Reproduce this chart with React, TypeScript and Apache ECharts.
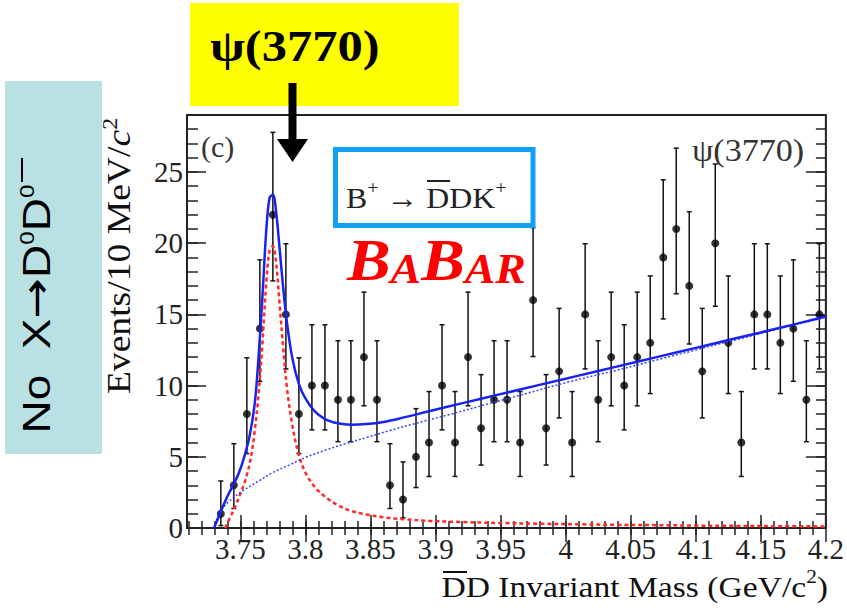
import React, { useEffect, useRef } from "react";
import * as echarts from "echarts";

// ---- data ----
const massBins = [
  3.735, 3.745, 3.755, 3.765, 3.775, 3.785, 3.795, 3.805, 3.815, 3.825,
  3.835, 3.845, 3.855, 3.865, 3.875, 3.885, 3.895, 3.905, 3.915, 3.925,
  3.935, 3.945, 3.955, 3.965, 3.975, 3.985, 3.995, 4.005, 4.015, 4.025,
  4.035, 4.045, 4.055, 4.065, 4.075, 4.085, 4.095, 4.105, 4.115, 4.125,
  4.135, 4.145, 4.155, 4.165, 4.175, 4.185, 4.195,
];
const events = [
  1, 3, 8, 14, 22, 15, 8, 10, 10, 9,
  9, 12, 9, 3, 2, 5, 6, 10, 6, 12,
  7, 9, 9, 6, 16, 7, 11, 6, 15, 9,
  12, 10, 12, 13, 19, 21, 17, 11, 20, 13,
  6, 15, 15, 13, 14, 9, 15,
];
const barLow = [
  0.17, 1.37, 5.23, 10.3, 17.35, 11.17, 5.23, 6.89, 6.89, 6.06,
  6.06, 8.58, 6.06, 1.37, 0.71, 2.84, 3.62, 6.89, 3.62, 8.58,
  4.42, 6.06, 6.06, 3.62, 12.04, 4.42, 7.73, 3.62, 11.17, 6.06,
  8.58, 6.89, 8.58, 9.44, 14.68, 16.45, 12.92, 7.73, 15.57, 9.44,
  3.62, 11.17, 11.17, 9.44, 10.3, 6.06, 11.17,
];
const barHigh = [
  3.3, 5.92, 11.95, 18.83, 27.78, 19.96, 11.95, 14.27, 14.27, 13.15,
  13.15, 16.56, 13.15, 5.92, 4.64, 8.38, 9.58, 14.27, 9.58, 16.56,
  10.77, 13.15, 13.15, 9.58, 21.09, 10.77, 15.42, 9.58, 19.96, 13.15,
  16.56, 14.27, 16.56, 17.7, 24.45, 26.67, 22.21, 15.42, 25.56, 17.7,
  9.58, 19.96, 19.96, 17.7, 18.83, 13.15, 19.96,
];
const totalFit: [number, number][] = [
  [3.7297, 0], [3.733, 0.7], [3.737, 1.6], [3.741, 2.4], [3.745, 3.1],
  [3.749, 3.9], [3.753, 5.0], [3.757, 6.4], [3.761, 8.7], [3.764, 12.0],
  [3.767, 16.3], [3.77, 21.0], [3.7725, 23.2], [3.775, 23.4], [3.7775, 22.2],
  [3.78, 19.8], [3.783, 16.8], [3.786, 14.3], [3.79, 11.9], [3.795, 10.1],
  [3.8, 9.1], [3.807, 8.2], [3.815, 7.65], [3.825, 7.35], [3.835, 7.25],
  [3.847, 7.3], [3.86, 7.45], [3.875, 7.75], [3.895, 8.2], [3.92, 8.75],
  [3.95, 9.4], [3.98, 10.05], [4.01, 10.7], [4.04, 11.35], [4.07, 12.0],
  [4.1, 12.65], [4.13, 13.3], [4.16, 13.95], [4.2, 14.85],
];
const signalFit: [number, number][] = [
  [3.7383, 0], [3.742, 0.7], [3.746, 1.5], [3.75, 2.4], [3.754, 3.4],
  [3.758, 4.9], [3.761, 6.8], [3.764, 9.4], [3.767, 13.0], [3.77, 17.3],
  [3.7725, 19.5], [3.775, 19.8], [3.7775, 18.6], [3.78, 15.9], [3.783, 12.6],
  [3.786, 9.7], [3.79, 7.2], [3.795, 5.1], [3.8, 3.9], [3.807, 2.9],
  [3.815, 2.2], [3.825, 1.6], [3.835, 1.2], [3.847, 0.95], [3.86, 0.75],
  [3.875, 0.62], [3.895, 0.5], [3.92, 0.42], [3.95, 0.35], [3.98, 0.3],
  [4.01, 0.26], [4.04, 0.22], [4.07, 0.2], [4.1, 0.17], [4.13, 0.15],
  [4.16, 0.13], [4.2, 0.11],
];
const backgroundFit: [number, number][] = [
  [3.7297, 0], [3.733, 0.9], [3.737, 1.45], [3.741, 1.85], [3.745, 2.15],
  [3.75, 2.5], [3.757, 2.9], [3.765, 3.35], [3.775, 3.9], [3.787, 4.4],
  [3.8, 4.95], [3.815, 5.45], [3.83, 5.9], [3.847, 6.35], [3.865, 6.85],
  [3.885, 7.35], [3.91, 7.95], [3.94, 8.7], [3.97, 9.45], [4.0, 10.2],
  [4.04, 11.1], [4.07, 11.8], [4.1, 12.5], [4.13, 13.2], [4.16, 13.9],
  [4.2, 14.8],
];
const xMajorTicks = [3.75, 3.8, 3.85, 3.9, 3.95, 4.0, 4.05, 4.1, 4.15, 4.2];
const yMajorTicks = [0, 5, 10, 15, 20, 25];

const X_MIN = 3.709;
const X_MAX = 4.2;
const Y_MIN = 0;
const Y_MAX = 29;

const SERIF = "'Liberation Serif', 'Times New Roman', serif";
const SANS = "'Liberation Sans', Arial, sans-serif";

function buildMinor(from: number, to: number, step: number): number[] {
  const out: number[] = [];
  const n = Math.round((to - from) / step);
  for (let i = 0; i <= n; i++) out.push(Math.round((from + i * step) * 1000) / 1000);
  return out;
}

const txt = (align: string, vAlign: string) => ({
  align,
  verticalAlign: vAlign,
  textAlign: align,
  textVerticalAlign: vAlign,
});

export default function App() {
  const ref = useRef<HTMLDivElement>(null);

  useEffect(() => {
    if (!ref.current) return;
    const chart = echarts.init(ref.current, undefined, { renderer: "svg" });

    const xMinor = buildMinor(3.71, 4.19, 0.01);
    const yMinor = buildMinor(1, 29, 1);
    const tickColor = "#222";

    const xAxisBase = (position: "top" | "bottom") => ({
      type: "value" as const,
      min: X_MIN,
      max: X_MAX,
      position,
      gridIndex: 0,
      axisLine: { show: false },
      splitLine: { show: false },
    });
    const yAxisBase = (position: "left" | "right") => ({
      type: "value" as const,
      min: Y_MIN,
      max: Y_MAX,
      position,
      gridIndex: 0,
      axisLine: { show: false },
      splitLine: { show: false },
    });
    const tick = (length: number, values: number[]) => ({
      inside: true,
      length,
      customValues: values,
      lineStyle: { color: tickColor, width: 1.5 },
    });

    const option: any = {
      animation: false,
      backgroundColor: "#ffffff",
      grid: {
        left: 187,
        right: 19,
        top: 115,
        bottom: 86,
        show: true,
        borderColor: "#222",
        borderWidth: 2,
        backgroundColor: "transparent",
      },
      xAxis: [
        {
          ...xAxisBase("bottom"),
          axisTick: tick(13, xMajorTicks),
          axisLabel: {
            customValues: xMajorTicks,
            formatter: (v: number) => String(Math.round(v * 100) / 100),
            fontFamily: SERIF,
            fontSize: 29,
            color: "#222",
            margin: 6,
          },
        },
        { ...xAxisBase("bottom"), axisTick: tick(7, xMinor), axisLabel: { show: false } },
        { ...xAxisBase("top"), axisTick: tick(14, xMajorTicks), axisLabel: { show: false } },
        { ...xAxisBase("top"), axisTick: tick(7, xMinor), axisLabel: { show: false } },
      ],
      yAxis: [
        {
          ...yAxisBase("left"),
          axisTick: tick(19, yMajorTicks),
          axisLabel: {
            customValues: yMajorTicks,
            fontFamily: SERIF,
            fontSize: 29,
            color: "#222",
            margin: 4,
          },
        },
        { ...yAxisBase("left"), axisTick: tick(11, yMinor), axisLabel: { show: false } },
        { ...yAxisBase("right"), axisTick: tick(20, yMajorTicks), axisLabel: { show: false } },
        { ...yAxisBase("right"), axisTick: tick(10, yMinor), axisLabel: { show: false } },
      ],
      series: [
        {
          name: "signal",
          type: "line",
          data: signalFit,
          showSymbol: false,
          smooth: 0.35,
          lineStyle: { color: "#ff2a2a", width: 2.5, type: [4, 3] },
          silent: true,
        },
        {
          name: "background",
          type: "line",
          data: backgroundFit,
          showSymbol: false,
          smooth: 0.35,
          lineStyle: { color: "#3344ff", width: 1.5, type: [2, 2] },
          silent: true,
        },
        {
          name: "total",
          type: "line",
          data: totalFit,
          showSymbol: false,
          smooth: 0.35,
          lineStyle: { color: "#1a22f0", width: 2.5 },
          silent: true,
        },
        {
          name: "errors",
          type: "custom",
          data: massBins.map((m, i) => [m, events[i], barLow[i], barHigh[i]]),
          encode: { x: 0, y: [1, 2, 3] },
          renderItem: (_params: any, api: any) => {
            const x = api.value(0);
            const top = api.coord([x, api.value(3)]);
            const bot = api.coord([x, api.value(2)]);
            const cap = 2.5;
            const st = { stroke: "#111", lineWidth: 1.5 };
            return {
              type: "group",
              children: [
                { type: "line", shape: { x1: top[0], y1: top[1], x2: bot[0], y2: bot[1] }, style: st },
                { type: "line", shape: { x1: top[0] - cap, y1: top[1], x2: top[0] + cap, y2: top[1] }, style: st },
                { type: "line", shape: { x1: bot[0] - cap, y1: bot[1], x2: bot[0] + cap, y2: bot[1] }, style: st },
              ],
            };
          },
          silent: true,
        },
        {
          name: "data",
          type: "scatter",
          data: massBins.map((m, i) => [m, events[i]]),
          symbol: "circle",
          symbolSize: 8,
          itemStyle: { color: "#000" },
          silent: true,
        },
      ],
      graphic: [
        // left teal box
        { type: "rect", shape: { x: 5, y: 81, width: 97, height: 373 }, style: { fill: "#b9e0e3" }, z: 10 },
        {
          type: "text",
          x: 36.5,
          y: 309,
          rotation: Math.PI / 2,
          scaleX: 1.21,
          z: 11,
          style: {
            text: "{n|No  X}{r|→}{n|D}{s|0}{n|D}{s|0}",
            ...txt("center", "middle"),
            fill: "#000",
            rich: {
              n: { fontFamily: SANS, fontSize: 38, lineHeight: 38, fill: "#000" },
              r: { fontFamily: "'DejaVu Sans', sans-serif", fontSize: 40, lineHeight: 38, fill: "#000" },
              s: { fontFamily: SANS, fontSize: 20, lineHeight: 28, verticalAlign: "top", fill: "#000" },
            },
          },
        },
        { type: "line", shape: { x1: 22, y1: 158, x2: 22, y2: 182 }, style: { stroke: "#000", lineWidth: 2 }, z: 11 },
        // yellow box
        { type: "rect", shape: { x: 190, y: 3, width: 269, height: 103 }, style: { fill: "#ffff00" }, z: 10 },
        {
          type: "text",
          x: 210,
          y: 46,
          scaleX: 1.15,
          z: 11,
          style: { text: "ψ(3770)", font: `bold 44px ${SERIF}`, fill: "#000", ...txt("left", "middle") },
        },
        // arrow
        { type: "rect", shape: { x: 288.5, y: 83, width: 8, height: 57 }, style: { fill: "#000" }, z: 11 },
        {
          type: "polygon",
          shape: { points: [[277, 139], [308, 139], [292.5, 162]] },
          style: { fill: "#000" },
          z: 11,
        },
        // blue framed box
        {
          type: "rect",
          shape: { x: 335.5, y: 149.5, width: 197.5, height: 76 },
          style: { fill: "#fff", stroke: "#12a0f5", lineWidth: 5 },
          z: 10,
        },
        {
          type: "text",
          x: 346,
          y: 198,
          scaleX: 1.06,
          z: 11,
          style: {
            text: "{t|B}{s|+}{t| → DDK}{s|+}",
            ...txt("left", "middle"),
            fill: "#222",
            rich: {
              t: { fontFamily: SERIF, fontSize: 30, lineHeight: 40, fill: "#222" },
              s: { fontFamily: SERIF, fontSize: 19, lineHeight: 19, verticalAlign: "top", fill: "#222" },
            },
          },
        },
        { type: "line", shape: { x1: 427, y1: 181, x2: 450, y2: 181 }, style: { stroke: "#222", lineWidth: 2 }, z: 11 },
        // BaBar logo
        {
          type: "text",
          x: 347,
          y: 260,
          scaleX: 1.09,
          z: 11,
          style: {
            text: "{b|B}{a|A}{b|B}{a|AR}",
            ...txt("left", "middle"),
            fill: "#ff0000",
            rich: {
              b: { fontFamily: SERIF, fontSize: 60, fontWeight: "bold", fontStyle: "italic", lineHeight: 60, fill: "#ff0000" },
              a: { fontFamily: SERIF, fontSize: 42, fontWeight: "bold", fontStyle: "italic", lineHeight: 48, verticalAlign: "bottom", fill: "#ff0000" },
            },
          },
        },
        // (c)
        {
          type: "text",
          x: 201,
          y: 146,
          z: 11,
          style: { text: "(c)", font: `30px ${SERIF}`, fill: "#333", ...txt("left", "middle") },
        },
        // psi label top right
        {
          type: "text",
          x: 692,
          y: 151,
          scaleX: 1.1,
          z: 11,
          style: { text: "ψ(3770)", font: `31px ${SERIF}`, fill: "#333", ...txt("left", "middle") },
        },
        // y-axis title
        {
          type: "text",
          x: 119,
          y: 256,
          rotation: Math.PI / 2,
          scaleX: 1.14,
          z: 11,
          style: {
            text: "{t|Events/10 MeV/}{i|c}{s|2}",
            ...txt("center", "middle"),
            fill: "#111",
            rich: {
              t: { fontFamily: SERIF, fontSize: 33, lineHeight: 40, fill: "#111" },
              i: { fontFamily: SERIF, fontSize: 33, fontStyle: "italic", lineHeight: 40, fill: "#111" },
              s: { fontFamily: SERIF, fontSize: 21, lineHeight: 21, verticalAlign: "top", fill: "#111" },
            },
          },
        },
        // x-axis title
        {
          type: "text",
          x: 828,
          y: 587,
          scaleX: 1.12,
          z: 11,
          style: {
            text: "{t|DD Invariant Mass (GeV/c}{s|2}{t|)}",
            ...txt("right", "middle"),
            fill: "#111",
            rich: {
              t: { fontFamily: SERIF, fontSize: 30, lineHeight: 40, fill: "#111" },
              s: { fontFamily: SERIF, fontSize: 19, lineHeight: 19, verticalAlign: "top", fill: "#111" },
            },
          },
        },
        { type: "line", shape: { x1: 443, y1: 572, x2: 467, y2: 572 }, style: { stroke: "#111", lineWidth: 2 }, z: 11 },
      ],
    };

    chart.setOption(option);
    return () => chart.dispose();
  }, []);

  return (
    <div
      ref={ref}
      style={{ position: "fixed", left: 0, top: 0, width: 847, height: 614, background: "#fff" }}
    />
  );
}
